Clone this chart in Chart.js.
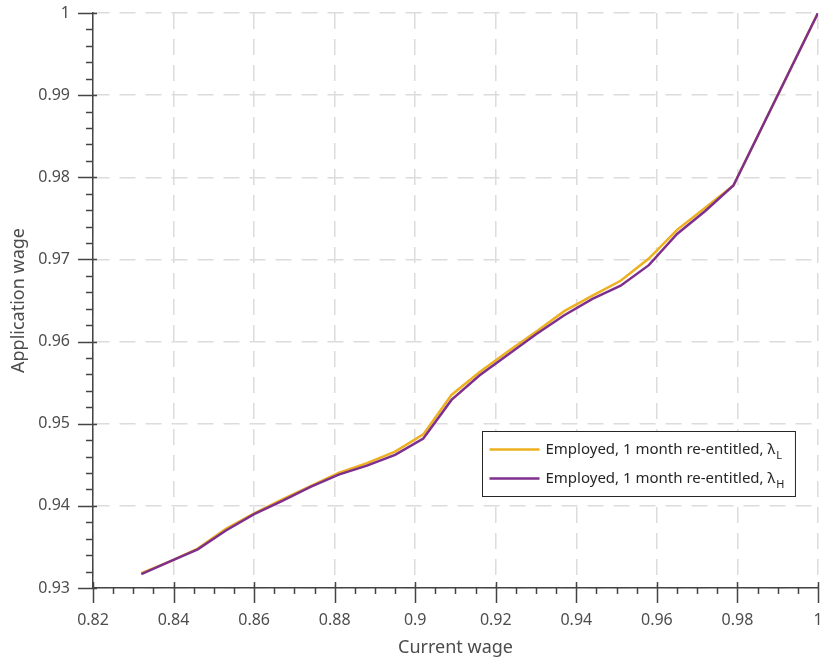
<!DOCTYPE html>
<html>
<head>
<meta charset="utf-8">
<script src="https://cdn.jsdelivr.net/npm/chart.js@4"></script>
<style>
  body { margin: 0; background: #fff; }
  #wrap { width: 820px; height: 661px; position: relative; }
</style>
</head>
<body>
<div id="wrap"><canvas id="wageChart"></canvas></div>
<script>
// current wage grid (x)
const currentWage = [0.832, 0.839, 0.846, 0.853, 0.860, 0.867, 0.874, 0.881, 0.888, 0.895, 0.902,
    0.909, 0.916, 0.923, 0.930, 0.937, 0.944, 0.951, 0.958, 0.965, 0.972, 0.979, 0.986, 0.993, 1.0];

// application wage, lambda low
const appWageLow = [0.9318, 0.9332, 0.9348, 0.9372, 0.9391, 0.9408, 0.9424, 0.9440, 0.9452, 0.9466, 0.9487,
    0.9535, 0.9563, 0.9588, 0.9612, 0.9637, 0.9656, 0.9674, 0.9701, 0.9736, 0.9763, 0.9790, 0.986, 0.993, 1.0];

// application wage, lambda high
const appWageHigh = [0.9317, 0.9332, 0.9347, 0.9370, 0.9390, 0.9406, 0.9423, 0.9438, 0.9449, 0.9462, 0.9482,
    0.9529, 0.9559, 0.9584, 0.9609, 0.9632, 0.9652, 0.9668, 0.9693, 0.9731, 0.9759, 0.9790, 0.986, 0.993, 1.0];

const seriesLabels = ['Employed, 1 month re-entitled, \u03bb', 'Employed, 1 month re-entitled, \u03bb'];
const seriesSubs = ['L', 'H'];
const seriesColors = ['#EDB120', '#7E2F8E'];

const xTicks = [0.82, 0.84, 0.86, 0.88, 0.9, 0.92, 0.94, 0.96, 0.98, 1];
const yTicks = [0.93, 0.94, 0.95, 0.96, 0.97, 0.98, 0.99, 1];

const FONT = "'Noto Sans', 'Open Sans', sans-serif";

function toPoints(xs, ys) {
    return xs.map((x, i) => ({ x: x, y: ys[i] }));
}

// major/minor tick marks like the original axes
const tickMarks = {
    id: 'tickMarks',
    afterDraw(chart) {
        const ctx = chart.ctx;
        const xs = chart.scales.x, ys = chart.scales.y;
        const bottom = chart.chartArea.bottom, left = chart.chartArea.left;
        ctx.save();
        ctx.strokeStyle = '#444';
        ctx.lineWidth = 1.5;
        ctx.beginPath();
        for (let i = 0; i <= 36; i++) {
            const v = xTicks[0] + i * 0.005;
            const px = Math.round(xs.getPixelForValue(v)) + 0.5;
            if (i % 4 === 0) {
                ctx.moveTo(px, bottom - 6); ctx.lineTo(px, bottom + 15);
            } else {
                ctx.moveTo(px, bottom); ctx.lineTo(px, bottom + 6);
            }
        }
        for (let i = 0; i <= 35; i++) {
            const v = yTicks[0] + i * 0.002;
            const py = Math.round(ys.getPixelForValue(v)) + 0.5;
            if (i % 5 === 0) {
                ctx.moveTo(left - 15, py); ctx.lineTo(left + 4, py);
            } else {
                ctx.moveTo(left - 7, py); ctx.lineTo(left, py);
            }
        }
        ctx.stroke();
        ctx.restore();
    }
};

// legend box with subscripts
const subLegend = {
    id: 'subLegend',
    afterDraw(chart) {
        const ctx = chart.ctx;
        const area = chart.chartArea;
        ctx.save();
        ctx.font = '15px ' + FONT;
        let textW = 0;
        seriesLabels.forEach(l => { textW = Math.max(textW, ctx.measureText(l).width); });
        ctx.font = '11px ' + FONT;
        const subW = ctx.measureText('H').width;
        const w = 63 + textW + subW + 12;
        const h = 65;
        const bx = Math.round(area.right - 23 - w) + 0.5;
        const by = Math.round(area.top + 418) + 0.5;
        ctx.fillStyle = '#fff';
        ctx.fillRect(bx, by, w, h);
        ctx.strokeStyle = '#262626';
        ctx.lineWidth = 1;
        ctx.strokeRect(bx, by, w, h);
        seriesLabels.forEach((label, i) => {
            const cy = by + 18 + i * 29;
            ctx.strokeStyle = seriesColors[i];
            ctx.lineWidth = 2.5;
            ctx.beginPath();
            ctx.moveTo(bx + 7, cy);
            ctx.lineTo(bx + 57, cy);
            ctx.stroke();
            ctx.fillStyle = '#262626';
            ctx.textBaseline = 'middle';
            ctx.font = '15px ' + FONT;
            ctx.fillText(label, bx + 63, cy);
            const lw = ctx.measureText(label).width;
            ctx.font = '11px ' + FONT;
            ctx.fillText(seriesSubs[i], bx + 64 + lw, cy + 6);
        });
        ctx.restore();
    }
};

const ctxWage = document.getElementById('wageChart').getContext('2d');

new Chart(ctxWage, {
    type: 'line',
    data: {
        datasets: [{
            label: seriesLabels[0] + seriesSubs[0],
            data: toPoints(currentWage, appWageLow),
            borderColor: seriesColors[0],
            borderWidth: 2.5,
            pointRadius: 0,
            tension: 0,
            order: 1
        }, {
            label: seriesLabels[1] + seriesSubs[1],
            data: toPoints(currentWage, appWageHigh),
            borderColor: seriesColors[1],
            borderWidth: 2.5,
            pointRadius: 0,
            tension: 0,
            order: 0
        }]
    },
    options: {
        responsive: true,
        maintainAspectRatio: false,
        animation: false,
        layout: { padding: { top: 13, right: 2, left: 0, bottom: 0 } },
        plugins: {
            legend: { display: false },
            tooltip: { enabled: false }
        },
        scales: {
            x: {
                type: 'linear',
                min: 0.82,
                max: 1,
                afterBuildTicks: (axis) => { axis.ticks = xTicks.map(v => ({ value: v })); },
                afterFit: (axis) => {
                    axis.height = 73;
                    axis.paddingLeft = 0;
                    axis.paddingRight = 0;
                },
                ticks: {
                    color: '#4d4d4d',
                    font: { family: FONT, size: 16 },
                    padding: 3,
                    maxRotation: 0,
                    autoSkip: false,
                    callback: (v) => String(parseFloat(v.toFixed(2)))
                },
                grid: { color: '#dcdcdc', lineWidth: 1.5, drawTicks: true, tickLength: 20, tickColor: 'rgba(0,0,0,0)' },
                border: { color: '#444', width: 1.5, dash: [16, 10] },
                title: {
                    display: true,
                    text: 'Current wage',
                    color: '#4d4d4d',
                    font: { family: FONT, size: 18 },
                    padding: { top: 0, bottom: 2 }
                }
            },
            y: {
                type: 'linear',
                min: 0.93,
                max: 1,
                afterBuildTicks: (axis) => { axis.ticks = yTicks.map(v => ({ value: v })); },
                afterFit: (axis) => {
                    axis.width = 93;
                    axis.paddingTop = 0;
                    axis.paddingBottom = 0;
                },
                ticks: {
                    color: '#4d4d4d',
                    font: { family: FONT, size: 16 },
                    padding: 3,
                    autoSkip: false,
                    callback: (v) => String(parseFloat(v.toFixed(2)))
                },
                grid: { color: '#dcdcdc', lineWidth: 1.5, drawTicks: true, tickLength: 20, tickColor: 'rgba(0,0,0,0)' },
                border: { color: '#444', width: 1.5, dash: [16, 10] },
                title: {
                    display: true,
                    text: 'Application wage',
                    color: '#4d4d4d',
                    font: { family: FONT, size: 18 },
                    padding: { top: 8, bottom: 0 }
                }
            }
        }
    },
    plugins: [tickMarks, subLegend]
});
</script>
</body>
</html>
